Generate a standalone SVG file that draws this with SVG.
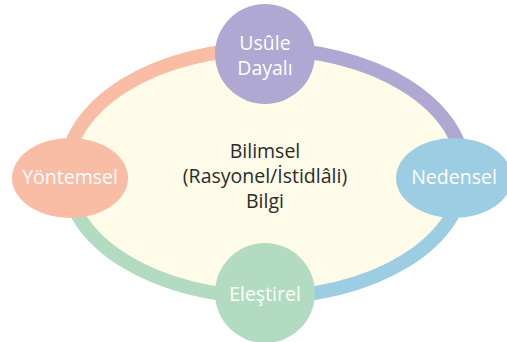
<svg xmlns="http://www.w3.org/2000/svg" width="507" height="342" viewBox="0 0 507 342">
<style>
.ring{fill:none;stroke-width:14}
.lbl{font-family:"Open Sans","Noto Sans","Liberation Sans",sans-serif;font-size:19.5px;fill:#ffffff;text-anchor:middle}
.ctr{font-family:"Open Sans","Noto Sans","Liberation Sans",sans-serif;font-size:19.5px;fill:#2b2b2b;text-anchor:middle}
</style>
<rect width="507" height="342" fill="#ffffff"/>
<ellipse id="core-fill" cx="265" cy="173" rx="199" ry="124" fill="#FEFBE9"/>
<g id="connectors">
<path class="ring" stroke="#F9BDA5" d="M66 173 A199 124 0 0 1 265 49"/>
<path class="ring" stroke="#AEA8D3" d="M265 49 A199 124 0 0 1 464 173"/>
<path class="ring" stroke="#9CCDE3" d="M464 173 A199 124 0 0 1 265 297"/>
<path class="ring" stroke="#B2DBC2" d="M265 297 A199 124 0 0 1 66 173"/>
</g>
<g id="center">
<text class="ctr" x="265" y="158">Bilimsel</text>
<text class="ctr" x="265" y="183">(Rasyonel/İstidlâli)</text>
<text class="ctr" x="265" y="208">Bilgi</text>
</g>
<g id="usule">
<circle cx="265" cy="54" r="50" fill="#AEA8D3"/>
<text class="lbl" x="265" y="50">Usûle</text>
<text class="lbl" x="265" y="75">Dayalı</text>
</g>
<g id="yontemsel">
<ellipse cx="70" cy="178" rx="58" ry="40" fill="#F9BDA5"/>
<text class="lbl" x="70" y="184">Yöntemsel</text>
</g>
<g id="nedensel">
<ellipse cx="454" cy="178" rx="58" ry="40" fill="#9CCDE3"/>
<text class="lbl" x="454" y="184">Nedensel</text>
</g>
<g id="elestirel">
<circle cx="265" cy="293" r="50" fill="#B2DBC2"/>
<text class="lbl" x="265" y="300.5">Eleştirel</text>
</g>
</svg>
